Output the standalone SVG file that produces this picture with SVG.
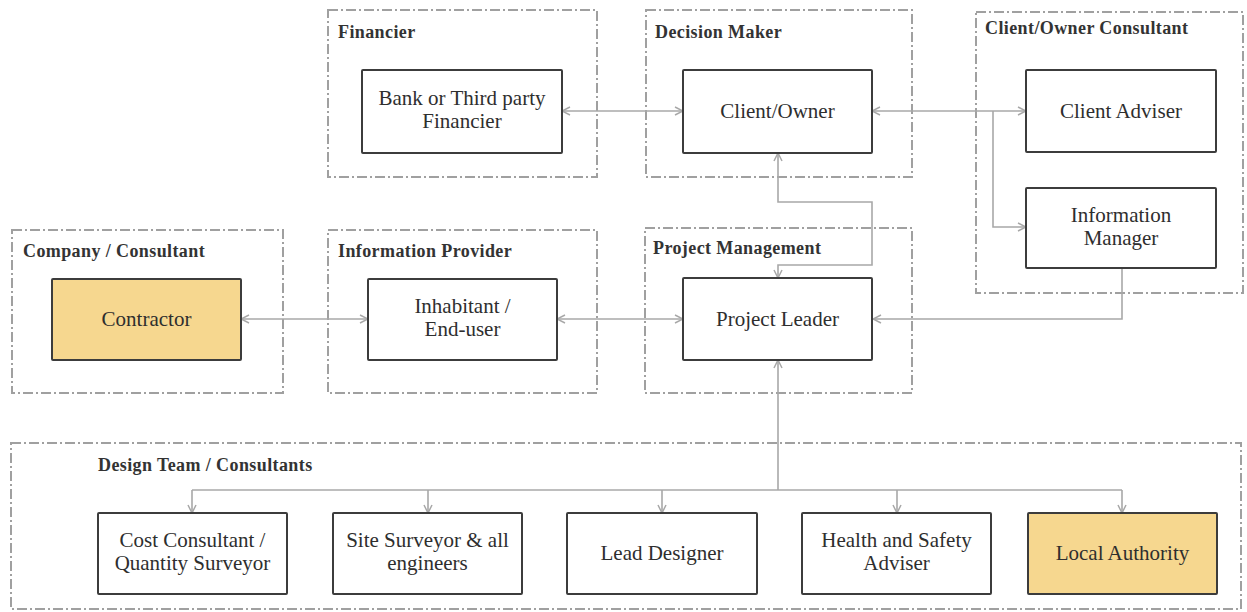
<svg xmlns="http://www.w3.org/2000/svg" width="1247" height="612" viewBox="0 0 1247 612">
  <style>
    .frame { fill: none; stroke: #a0a0a0; stroke-width: 2; stroke-dasharray: 10 3 2 3; }
    .title { font-family: "Liberation Serif", "Times New Roman", serif; font-weight: bold; font-size: 18px; letter-spacing: 0.4px; fill: #333333; }
    .box { fill: #ffffff; stroke: #3c3c3c; stroke-width: 2; }
    .box.hl { fill: #f6d78f; }
    .label { font-family: "Liberation Serif", "Times New Roman", serif; font-size: 21px; fill: #2e2e2e; text-anchor: middle; }
    .wire { fill: none; stroke: #a8a8a8; stroke-width: 1.6; }
  </style>
  <defs>
    <marker id="arrow" viewBox="0 0 10 10" refX="9" refY="5" markerWidth="10" markerHeight="10" markerUnits="userSpaceOnUse" orient="auto-start-reverse">
      <path d="M1,1 L9,5 L1,9" fill="none" stroke="#a8a8a8" stroke-width="1.5"/>
    </marker>
  </defs>

  <rect width="1247" height="612" fill="#ffffff"/>

  <!-- Stakeholder group frames -->
  <g id="group-financier">
    <rect class="frame" x="328" y="10" width="269" height="167"/>
    <text class="title" x="338" y="38">Financier</text>
  </g>
  <g id="group-decision-maker">
    <rect class="frame" x="646" y="10" width="266" height="167"/>
    <text class="title" x="655" y="38">Decision Maker</text>
  </g>
  <g id="group-client-consultant">
    <rect class="frame" x="976" y="12" width="267" height="281"/>
    <text class="title" x="985" y="34">Client/Owner Consultant</text>
  </g>
  <g id="group-company">
    <rect class="frame" x="12" y="230" width="271" height="163"/>
    <text class="title" x="23" y="257">Company / Consultant</text>
  </g>
  <g id="group-info-provider">
    <rect class="frame" x="328" y="230" width="269" height="163"/>
    <text class="title" x="338" y="257">Information Provider</text>
  </g>
  <g id="group-project-management">
    <rect class="frame" x="645" y="228" width="267" height="165"/>
    <text class="title" x="653" y="254">Project Management</text>
  </g>
  <g id="group-design-team">
    <rect class="frame" x="11" y="443" width="1230" height="166"/>
    <text class="title" x="98" y="471">Design Team / Consultants</text>
  </g>

  <!-- Connectors -->
  <g id="connectors">
    <path class="wire" d="M562,111 H683" marker-start="url(#arrow)" marker-end="url(#arrow)"/>
    <path class="wire" d="M872,111 H1026" marker-start="url(#arrow)" marker-end="url(#arrow)"/>
    <path class="wire" d="M993,111 V227 H1026" marker-end="url(#arrow)"/>
    <path class="wire" d="M778,153 V202 H872 V265 H778 V278" marker-start="url(#arrow)" marker-end="url(#arrow)"/>
    <path class="wire" d="M1122,268 V319 H873" marker-end="url(#arrow)"/>
    <path class="wire" d="M241,319 H368" marker-start="url(#arrow)" marker-end="url(#arrow)"/>
    <path class="wire" d="M557,319 H683" marker-start="url(#arrow)" marker-end="url(#arrow)"/>
    <path class="wire" d="M778,360 V490" marker-start="url(#arrow)"/>
    <path class="wire" d="M192,490 H1122"/>
    <path class="wire" d="M192,490 V513" marker-end="url(#arrow)"/>
    <path class="wire" d="M428,490 V513" marker-end="url(#arrow)"/>
    <path class="wire" d="M662,490 V513" marker-end="url(#arrow)"/>
    <path class="wire" d="M897,490 V513" marker-end="url(#arrow)"/>
    <path class="wire" d="M1122,490 V513" marker-end="url(#arrow)"/>
  </g>

  <!-- Nodes -->
  <g id="node-bank">
    <rect class="box" x="362" y="70" width="200" height="83" rx="1"/>
    <text class="label" x="462" y="105">Bank or Third party</text>
    <text class="label" x="462" y="128">Financier</text>
  </g>
  <g id="node-client-owner">
    <rect class="box" x="683" y="70" width="189" height="83" rx="1"/>
    <text class="label" x="777.5" y="118">Client/Owner</text>
  </g>
  <g id="node-client-adviser">
    <rect class="box" x="1026" y="70" width="190" height="82" rx="1"/>
    <text class="label" x="1121" y="118">Client Adviser</text>
  </g>
  <g id="node-information-manager">
    <rect class="box" x="1026" y="188" width="190" height="80" rx="1"/>
    <text class="label" x="1121" y="222">Information</text>
    <text class="label" x="1121" y="245">Manager</text>
  </g>
  <g id="node-contractor">
    <rect class="box hl" x="52" y="279" width="189" height="81" rx="1"/>
    <text class="label" x="146.5" y="326">Contractor</text>
  </g>
  <g id="node-inhabitant">
    <rect class="box" x="368" y="279" width="189" height="81" rx="1"/>
    <text class="label" x="462.5" y="313">Inhabitant /</text>
    <text class="label" x="462.5" y="336">End-user</text>
  </g>
  <g id="node-project-leader">
    <rect class="box" x="683" y="278" width="189" height="82" rx="1"/>
    <text class="label" x="777.5" y="326">Project Leader</text>
  </g>
  <g id="node-cost-consultant">
    <rect class="box" x="98" y="513" width="189" height="81" rx="1"/>
    <text class="label" x="192.5" y="547">Cost Consultant /</text>
    <text class="label" x="192.5" y="570">Quantity Surveyor</text>
  </g>
  <g id="node-site-surveyor">
    <rect class="box" x="333" y="513" width="189" height="81" rx="1"/>
    <text class="label" x="427.5" y="547">Site Surveyor &amp; all</text>
    <text class="label" x="427.5" y="570">engineers</text>
  </g>
  <g id="node-lead-designer">
    <rect class="box" x="567" y="513" width="190" height="81" rx="1"/>
    <text class="label" x="662" y="560">Lead Designer</text>
  </g>
  <g id="node-health-safety">
    <rect class="box" x="802" y="513" width="189" height="81" rx="1"/>
    <text class="label" x="896.5" y="547">Health and Safety</text>
    <text class="label" x="896.5" y="570">Adviser</text>
  </g>
  <g id="node-local-authority">
    <rect class="box hl" x="1028" y="513" width="189" height="81" rx="1"/>
    <text class="label" x="1122.5" y="560">Local Authority</text>
  </g>
</svg>
